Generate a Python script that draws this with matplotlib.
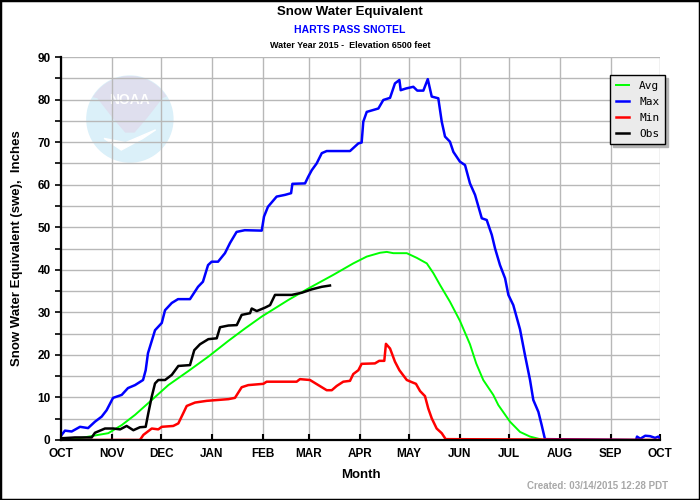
import numpy as np
import pandas as pd
import matplotlib
matplotlib.use('Agg')
import matplotlib.pyplot as plt
from matplotlib.patches import Ellipse, Polygon, Rectangle

# water year 2015, x = days since Oct 1 2014
start = pd.Timestamp('2014-10-01')
month_starts = pd.date_range('2014-10-01', '2015-10-01', freq='MS')
month_labels = ['OCT', 'NOV', 'DEC', 'JAN', 'FEB', 'MAR', 'APR',
                'MAY', 'JUN', 'JUL', 'AUG', 'SEP', 'OCT']

max_days = [0, 2.4, 6.5, 11.6, 16.5, 20.7, 24.8, 27.8, 31.7, 37, 40.8, 45.1, 50, 51.6, 53,
            57.3, 61.4, 63.4, 67.5, 71.3, 78.6, 83.5, 86.5, 89.6, 91.8, 95.7, 99.9, 103,
            107, 112, 122.3, 123.7, 126.1, 131.4, 136.5, 140.2, 141, 148.7, 150.7, 152.8,
            155.8, 158.9, 161.9, 176.1, 181.2, 183.2, 184.2, 186.3, 193.4, 196.4, 200.5,
            203.5, 206.2, 207, 210.2, 214.7, 217.1, 220.8, 223.5, 225.9, 229.9, 232, 234,
            237, 239.1, 243.1, 246.2, 249.2, 252.3, 256.4, 259.4, 262.5, 264.5, 267.5,
            270.6, 272.6, 275.6, 279.7, 282.7, 285.8, 287.8, 290.9, 292.9, 294.9, 350.4,
            351, 353, 356, 359, 362, 364, 365]
max_swe = [1.0, 2.2, 2.0, 3.1, 2.8, 4.3, 5.5, 7.0, 9.9, 10.6, 12.2, 12.9, 14.1, 16.4, 20.4,
           25.8, 27.5, 30.5, 32.2, 33.1, 33.1, 36, 37.2, 41.1, 41.9, 41.9, 43.9, 46.3,
           48.9, 49.3, 49.2, 52.5, 54.8, 57.2, 57.6, 58, 60.2, 60.3, 61.9, 63.4,
           65, 67.4, 67.9, 67.9, 69.7, 69.9, 74.8, 77.1, 77.9, 79.9, 80.4,
           83.8, 84.6, 82.2, 82.6, 83, 82.1, 82.1, 84.8, 80.7, 80.3, 74.8, 71.3,
           70.1, 67.7, 65.4, 64.6, 60.3, 57.6, 52.1, 51.7, 48.2, 45, 41.1,
           38, 34.1, 31.7, 26, 20, 14.1, 9.4, 6.6, 3.5, 0.2, 0,
           0.8, 0.3, 1.0, 0.9, 0.5, 0.8, 0.3]

avg_days = [0, 2.4, 12.6, 22.7, 28.8, 37, 45.1, 55.3, 65.4, 77.6, 89.8, 102, 112.1, 122.3,
            138.5, 150.7, 165.9, 178.1, 186.3, 194.4, 198.5, 202.5, 210.7, 216.8, 222.9,
            226.9, 231, 237, 243.1, 249.2, 253, 257.3, 263.4, 266.5, 273.6, 279.7, 285.8,
            291.9, 293.7, 365]
avg_swe = [0, 0.2, 0.5, 1.2, 1.6, 3.5, 5.9, 9.4, 12.9, 16.2, 19.6, 23.3, 26.2, 29,
           32.9, 35.6, 38.8, 41.5, 43.1, 44, 44.2, 43.9, 43.9, 42.8, 41.5,
           39.2, 36.4, 32.5, 28, 22.5, 18, 14.1, 10.6, 8.2, 4.3, 1.9, 0.8,
           0.2, 0, 0]

min_days = [0, 48.1, 50.2, 55.3, 59.3, 61.4, 68.4, 71.5, 74.5, 76.6, 81.7, 88.8, 102, 106,
            110.1, 114.1, 123.3, 125.3, 143.6, 145.6, 151.7, 156.8, 161.9, 165, 168, 172,
            176.1, 178.1, 181.2, 183.2, 191.3, 193.9, 197, 198, 200.5, 203.5, 206.2,
            210.7, 213.7, 216.3, 218.8, 221.8, 223.8, 225.9, 228.9, 232, 234.4, 365]
min_swe = [0, 0, 1.2, 2.7, 2.5, 3.1, 3.3, 3.9, 6.3, 8, 8.8, 9.2, 9.6, 9.9,
           12.4, 12.9, 13.2, 13.7, 13.7, 14.3, 14.1, 12.9, 11.7, 11.7, 12.7, 13.7,
           13.9, 15.5, 16.4, 17.9, 18, 18.6, 18.6, 22.6, 21.5, 18.4, 16.4,
           14.1, 13.6, 13.2, 11.5, 10.3, 7.4, 5.1, 2.7, 1.6, 0.2, 0]

obs_days = [0, 8.5, 18.7, 20.7, 26.8, 31.9, 36, 40, 44.1, 48.1, 51.6, 53.2, 55.3, 57.3,
            59.3, 63.4, 67.5, 71.5, 78.6, 81.2, 84.7, 89.8, 94.9, 96.9, 102, 107.1, 110.1,
            115.2, 116.2, 119.3, 124.3, 127.4, 130.4, 136.5, 140.6, 146.7, 152.8, 158.9,
            163.9]
obs_swe = [0.4, 0.6, 0.6, 1.7, 2.7, 2.7, 2.5, 3.3, 2.3, 3.0, 3.1, 6.3, 10.2, 13.3,
           14.1, 14.1, 15.3, 17.4, 17.6, 21.1, 22.5, 23.7, 23.9, 26.5, 26.9, 27, 29.4,
           29.8, 30.9, 30.3, 31.1, 31.7, 34.1, 34.1, 34.1, 34.6, 35.4, 36, 36.3]

plt.rcParams['font.family'] = ['Liberation Sans', 'DejaVu Sans']

fig = plt.figure(figsize=(7, 5), dpi=100)
fig.patch.set_facecolor('white')

ax = fig.add_axes([61 / 700, 60 / 500, 599 / 700, 383 / 500])

tick_pos = (month_starts - start).days
y_major = np.arange(0, 91, 10)
y_minor = np.arange(5, 90, 10)

ax.set_xlim(0, tick_pos[-1])
ax.set_ylim(0, 90)
ax.grid(True, which='both', axis='y', color='#b8b8b8', lw=1.0)
ax.grid(True, which='major', axis='x', color='#b8b8b8', lw=1.0)
ax.set_axisbelow(True)

# faint NOAA logo watermark, axes coords, round in pixels
cx, cy = 0.115, 0.838
rx, ry = 43 / 599, 43 / 383


def logo_pts(pts):
    return [(cx + u * rx, cy + v * ry) for u, v in pts]


disc = Ellipse((cx, cy), 2 * rx, 2 * ry, transform=ax.transAxes, color='#dbf0f9', zorder=0.1)
ax.add_patch(disc)
cap = Polygon(logo_pts([(-1, 0.55), (-0.75, 0.5), (-0.4, 0.05), (-0.1, -0.3), (0.1, -0.3),
                        (0.4, 0.05), (0.75, 0.5), (1, 0.6), (1, 1), (-1, 1)]),
              transform=ax.transAxes, color='#dfdfee', zorder=0.2)
ax.add_patch(cap)
cap.set_clip_path(disc)
swoosh = Polygon(logo_pts([(-0.6, -0.45), (-0.1, -0.55), (0.6, -0.25), (0.3, -0.45),
                           (-0.2, -0.72)]),
                 transform=ax.transAxes, color='white', zorder=0.3)
ax.add_patch(swoosh)
swoosh.set_clip_path(disc)
ax.text(cx, cy + 0.45 * ry, 'NOAA', transform=ax.transAxes, color='white', fontsize=10,
        fontweight='bold', ha='center', va='center', zorder=0.4)

ax.plot(avg_days, avg_swe, color='#00ff00', lw=1.4, label='Avg')
ax.plot(max_days, max_swe, color='#0000ff', lw=1.8, label='Max')
ax.plot(min_days, min_swe, color='#ff0000', lw=1.8, label='Min')
ax.plot(obs_days, obs_swe, color='black', lw=1.8, label='Obs')

ax.set_xticks(tick_pos)
ax.set_xticklabels(month_labels)
ax.set_yticks(y_major)
ax.set_yticks(y_minor, minor=True)
ax.tick_params(axis='x', direction='in', length=4, width=1.5, pad=6, labelsize=8.5)
ax.tick_params(axis='y', which='both', direction='out', length=4, width=1.2, labelsize=8.5)
for lab in ax.get_xticklabels() + ax.get_yticklabels():
    lab.set_fontweight('bold')

for side in ['top', 'right']:
    ax.spines[side].set_visible(False)
for side in ['left', 'bottom']:
    ax.spines[side].set_linewidth(1.6)

ax.set_xlabel('Month', fontsize=9.5, fontweight='bold', labelpad=6)
ax.set_ylabel('Snow Water Equivalent (swe),  Inches', fontsize=9.5, fontweight='bold',
              labelpad=10)

leg = ax.legend(loc='upper right', bbox_to_anchor=(665 / 700, 425 / 500),
                bbox_transform=fig.transFigure, borderaxespad=0, fancybox=False,
                shadow={'color': '#b4b4b4', 'alpha': 1}, framealpha=1,
                facecolor='#ebebeb', edgecolor='black', handlelength=1.2,
                prop={'family': 'DejaVu Sans Mono', 'size': 8}, labelspacing=0.55,
                borderpad=0.5, handletextpad=0.9)
leg.get_frame().set_linewidth(1)

fig.text(0.5, 1 - 12 / 500, 'Snow Water Equivalent', ha='center', va='center',
         fontsize=9.5, fontweight='bold')
fig.text(0.5, 1 - 30 / 500, 'HARTS PASS SNOTEL', ha='center', va='center',
         fontsize=7.5, fontweight='bold', color='#0000ff')
fig.text(0.5, 1 - 45 / 500, 'Water Year 2015 -  Elevation 6500 feet', ha='center',
         va='center', fontsize=6.5, fontweight='bold')
fig.text(668 / 700, 1 - 486 / 500, 'Created: 03/14/2015 12:28 PDT', ha='right',
         va='center', fontsize=7, fontweight='bold', color='#a8a8a8')

fig.patches.append(Rectangle((0, 0), 1, 1, transform=fig.transFigure, fill=False,
                             edgecolor='black', lw=2.5))

fig.savefig('out.png', dpi=100)
